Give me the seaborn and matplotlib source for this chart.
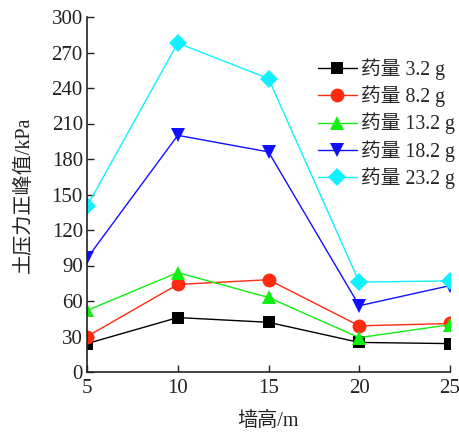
import matplotlib
matplotlib.use("Agg")
import matplotlib.pyplot as plt
import seaborn as sns
import pandas as pd

wall_height = [5, 10, 15, 20, 25]
series_names = ["药量 3.2 g", "药量 8.2 g", "药量 13.2 g", "药量 18.2 g", "药量 23.2 g"]
pressure_3_2 = [24, 46, 42, 25, 24]
pressure_8_2 = [30, 74, 78, 39, 41]
pressure_13_2 = [52, 84, 63, 29, 40]
pressure_18_2 = [96, 200, 186, 56, 73]
pressure_23_2 = [140, 278, 248, 76, 77]
y_ticks = [0, 30, 60, 90, 120, 150, 180, 210, 240, 270, 300]
x_ticks = [5, 10, 15, 20, 25]

all_values = [pressure_3_2, pressure_8_2, pressure_13_2, pressure_18_2, pressure_23_2]
rows = []
for name, vals in zip(series_names, all_values):
    for h, v in zip(wall_height, vals):
        rows.append({"墙高": h, "压力": v, "药量": name})
df = pd.DataFrame(rows)

sns.set_theme(style="ticks")
plt.rcParams["font.family"] = ["Liberation Serif", "Noto Sans CJK SC"]
plt.rcParams["axes.unicode_minus"] = False

colors = ["#000000", "#ff2a10", "#10f010", "#1010ff", "#10f0ff"]
markers = ["s", "o", "^", "v", "D"]
sizes = [9, 10, 10, 10, 9]

fig = plt.figure(figsize=(4.6, 4.37), dpi=100)
ax = fig.add_axes([87 / 460, 1 - 372 / 437, (450 - 87) / 460, (372 - 17) / 437])

sns.lineplot(data=df, x="墙高", y="压力", hue="药量", style="药量",
             palette=dict(zip(series_names, colors)),
             markers=dict(zip(series_names, markers)),
             dashes=False, linewidth=1.0, markersize=9, markeredgewidth=0,
             ax=ax, legend=True)

for line, ms in zip(ax.lines, sizes):
    line.set_markersize(ms)

ax.set_xlim(5, 25)
ax.set_ylim(0, 300)
ax.set_xticks(x_ticks)
ax.set_yticks(y_ticks)
ax.tick_params(direction="in", length=5, width=1.0, labelsize=15, colors="#222222")
ax.tick_params(axis="x", pad=5)
ax.tick_params(axis="y", pad=3)
for side in ["top", "right"]:
    ax.spines[side].set_visible(False)
for side in ["left", "bottom"]:
    ax.spines[side].set_linewidth(1.2)
    ax.spines[side].set_color("#222222")

ax.set_xlabel("墙高/m", fontsize=14.5, labelpad=10, color="#222222")
ax.set_ylabel("土压力正峰值/kPa", fontsize=14.5, labelpad=13, color="#222222")

handles, labels = ax.get_legend_handles_labels()
for h, ms in zip(handles, sizes):
    h.set_markersize(ms)
leg = ax.legend(handles, labels, loc="upper left", bbox_to_anchor=(0.614, 0.905),
                frameon=False, fontsize=14.2, handlelength=2.0, handletextpad=0.2,
                labelspacing=0.28, borderaxespad=0)

fig.savefig("out.png", dpi=100)
